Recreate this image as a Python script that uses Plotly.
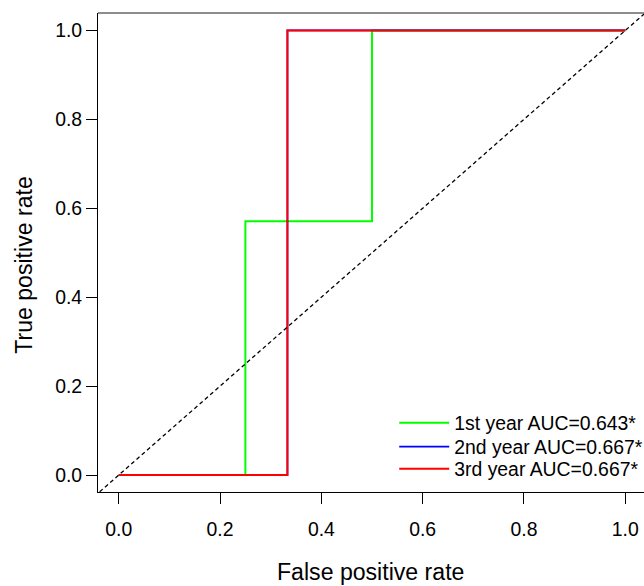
import plotly.graph_objects as go

# ROC step curves (false positive rate, true positive rate) per follow-up year
fpr_y1 = [0.0, 0.25, 0.25, 0.5, 0.5, 1.0]
tpr_y1 = [0.0, 0.0, 0.571, 0.571, 1.0, 1.0]
fpr_y2 = [0.0, 0.333, 0.333, 1.0]
tpr_y2 = [0.0, 0.0, 1.0, 1.0]
fpr_y3 = [0.0, 0.333, 0.333, 1.0]
tpr_y3 = [0.0, 0.0, 1.0, 1.0]

series_names = ["1st year AUC=0.643*", "2nd year AUC=0.667*", "3rd year AUC=0.667*"]
series_colors = ["#00FF00", "#0000FF", "#FF0000"]
# the 2nd-year curve sits exactly under the 3rd-year one; keep it a touch thinner
series_widths = [2, 1.7, 2]

tick_vals = [0.0, 0.2, 0.4, 0.6, 0.8, 1.0]
tick_text = ["0.0", "0.2", "0.4", "0.6", "0.8", "1.0"]
ref_line = [-0.1, 1.1]

FONT = "Liberation Sans, Arial, sans-serif"
TICK_SIZE = 19.4
TITLE_SIZE = 23.1

# plot-area geometry in pixels (used to place legend rows and titles)
PX_L, PX_R, PX_T, PX_B = 97.5, 644.0, 12.5, 492.0
def px_x(p):
    return (p - PX_L) / (PX_R - PX_L)
def px_y(p):
    return (PX_B - p) / (PX_B - PX_T)

legend_ids = ["legend", "legend2", "legend3"]
legend_rows = [423, 447, 469]

fig = go.Figure()
for xs, ys, name, col, w, lg in zip([fpr_y1, fpr_y2, fpr_y3], [tpr_y1, tpr_y2, tpr_y3],
                                    series_names, series_colors, series_widths, legend_ids):
    fig.add_trace(go.Scatter(x=xs, y=ys, mode="lines", name=name, legend=lg,
                             line=dict(color=col, width=w)))

# chance diagonal
fig.add_trace(go.Scatter(x=ref_line, y=ref_line, mode="lines", showlegend=False,
                         line=dict(color="black", width=1.3, dash="4px,3px"),
                         hoverinfo="skip"))

axis_common = dict(
    showgrid=False, zeroline=False,
    showline=True, linecolor="black", linewidth=1,
    ticks="outside", ticklen=11, tickcolor="black", tickwidth=1,
    tickvals=tick_vals, ticktext=tick_text,
    tickfont=dict(family=FONT, size=TICK_SIZE, color="black"),
)

legend_style = dict(xanchor="left", yanchor="middle",
                    bgcolor="rgba(0,0,0,0)", borderwidth=0,
                    font=dict(family=FONT, size=TICK_SIZE, color="black"),
                    itemwidth=50)

layout_legends = {}
for lg, row in zip(legend_ids, legend_rows):
    layout_legends[lg] = dict(x=px_x(394), y=px_y(row), **legend_style)

fig.update_layout(
    width=644, height=586,
    margin=dict(l=PX_L, r=0, t=PX_T, b=586 - PX_B, autoexpand=False),
    plot_bgcolor="white", paper_bgcolor="white",
    xaxis=dict(range=[-0.041, 1.037], ticklabelstandoff=9, **axis_common),
    yaxis=dict(range=[-0.0382, 1.0393], ticklabelstandoff=0, **axis_common),
    showlegend=True,
    font=dict(family=FONT, color="black"),
    **layout_legends,
)

# top frame edge
fig.add_shape(type="line", xref="paper", yref="paper", x0=0, x1=1, y0=1, y1=1,
              line=dict(color="#666666", width=1.5))

# axis titles
fig.add_annotation(text="False positive rate", xref="paper", yref="paper",
                   x=px_x(370), y=px_y(572),
                   xanchor="center", yanchor="middle", showarrow=False,
                   font=dict(family=FONT, size=TITLE_SIZE, color="black"))
fig.add_annotation(text="True positive rate", xref="paper", yref="paper",
                   x=px_x(24), y=px_y(265),
                   xanchor="center", yanchor="middle", showarrow=False, textangle=-90,
                   font=dict(family=FONT, size=TITLE_SIZE, color="black"))

fig.write_html("out.html")
